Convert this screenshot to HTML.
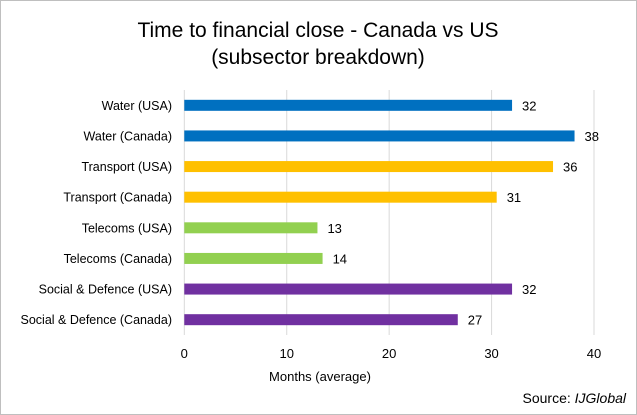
<!DOCTYPE html>
<html><head><meta charset="utf-8"><style>
body{margin:0;background:#fff;}
svg{display:block;font-family:"Liberation Sans",sans-serif;}
</style></head><body>
<svg width="637" height="415">
<rect x="0.5" y="0.5" width="636" height="414" fill="#fff" stroke="#bfbfbf"/>
<text x="318" y="37" font-size="21" text-anchor="middle" fill="#000">Time to financial close - Canada vs US</text>
<text x="318" y="64" font-size="21" text-anchor="middle" fill="#000">(subsector breakdown)</text>
<g id="grid"></g><g id="bars"></g><g id="ylabels"></g><g id="xticks"></g>
<text x="320" y="381" font-size="13" text-anchor="middle" fill="#000">Months (average)</text>
<text x="626" y="403" font-size="14" text-anchor="end" fill="#000">Source: <tspan font-style="italic">IJGlobal</tspan></text>
</svg>
<script>
const categories=["Water (USA)","Water (Canada)","Transport (USA)","Transport (Canada)","Telecoms (USA)","Telecoms (Canada)","Social & Defence (USA)","Social & Defence (Canada)"];
const values=[32,38.1,36,30.5,13,13.5,32,26.7];
const valueLabels=["32","38","36","31","13","14","32","27"];
const colors=["#0070c0","#0070c0","#ffc000","#ffc000","#92d050","#92d050","#7030a0","#7030a0"];
const ticks=[0,10,20,30,40];
const NS="http://www.w3.org/2000/svg";
const x0=184.3,x1=594,yTop=90,yBot=335;
const xs=v=>x0+(v/40)*(x1-x0);
const band=(yBot-yTop)/categories.length;
const yc=i=>yTop+band*(i+0.5);
function mk(t,a,p){const e=document.createElementNS(NS,t);for(const k in a)e.setAttribute(k,a[k]);p.appendChild(e);return e;}
const g=document.getElementById('grid');
ticks.forEach(t=>{
 const l=mk('line',{x1:xs(t),x2:xs(t),y1:yTop,y2:yBot,stroke:'#d9d9d9','stroke-width':1},g);
 
 
 const tx=mk('text',{x:xs(t),y:358,'font-size':13,'text-anchor':'middle',fill:'#000'},document.getElementById('xticks'));
 tx.textContent=t;
 
 
});
const bg=document.getElementById('bars'),yl=document.getElementById('ylabels');
categories.forEach((c,i)=>{
 const y=yc(i);
 const r=mk('rect',{x:x0,y:y-5.5,width:xs(values[i])-x0,height:11,fill:colors[i]},bg);
 
 
 const v=mk('text',{x:xs(values[i])+10,y:y+5,'font-size':13,fill:'#000'},bg);
 v.textContent=valueLabels[i];
 
 
 const lb=mk('text',{x:172,y:y+4.5,'font-size':12.5,'text-anchor':'end',fill:'#000'},yl);
 lb.textContent=c;
 
 
});
</script>
</body></html>
